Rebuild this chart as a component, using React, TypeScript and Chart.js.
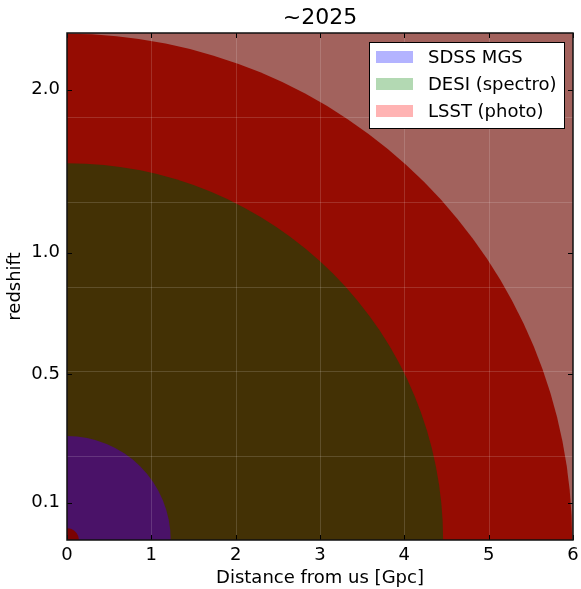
import React, { useEffect, useRef } from "react";
import { Chart, registerables } from "chart.js";

Chart.register(...registerables);

// ---- data ----
const titleText = "~2025";
const xTickValues = [0, 1, 2, 3, 4, 5, 6];
const gridValues = [1, 2, 3, 4, 5];
const redshiftLabels = ["0.1", "0.5", "1.0", "2.0"];
const redshiftDistances = [0.44, 1.96, 3.4, 5.33]; // Gpc
const surveyNames = ["SDSS MGS", "DESI (spectro)", "LSST (photo)"];
const surveyRadii = [1.23, 4.46, 5.99]; // Gpc
const surveyRegionColors = ["#4a1268", "#433105", "#950c02"];
const legendColors = ["#b3b3ff", "#b3d9b3", "#ffb3b3"];
const outsideColor = "#a2625d";
const localRadius = [0.14];
const localColor = "#7a0202";

const FONT = "'DejaVu Sans', sans-serif";
const FS = 18;

const regionPlugin = {
  id: "regions",
  beforeDatasetsDraw(chart: any) {
    const { ctx, chartArea, scales } = chart;
    const xs = scales.x;
    const ys = scales.y;
    ctx.save();
    ctx.beginPath();
    ctx.rect(chartArea.left, chartArea.top, chartArea.right - chartArea.left, chartArea.bottom - chartArea.top);
    ctx.clip();
    ctx.fillStyle = outsideColor;
    ctx.fillRect(chartArea.left, chartArea.top, chartArea.right - chartArea.left, chartArea.bottom - chartArea.top);
    const cx = xs.getPixelForValue(0);
    const cy = ys.getPixelForValue(0);
    const disc = (r: number, color: string) => {
      const rx = xs.getPixelForValue(r) - cx;
      const ry = cy - ys.getPixelForValue(r);
      ctx.beginPath();
      ctx.ellipse(cx, cy, rx, ry, 0, 0, Math.PI * 2);
      ctx.fillStyle = color;
      ctx.fill();
    };
    const order = surveyRadii.map((r, i) => i).sort((a, b) => surveyRadii[b] - surveyRadii[a]);
    order.forEach((i) => disc(surveyRadii[i], surveyRegionColors[i]));
    localRadius.forEach((r) => disc(r, localColor));
    // grid
    ctx.strokeStyle = "rgba(255,255,255,0.15)";
    ctx.lineWidth = 1;
    gridValues.forEach((v) => {
      const px = Math.round(xs.getPixelForValue(v)) + 0.5;
      ctx.beginPath();
      ctx.moveTo(px, chartArea.top);
      ctx.lineTo(px, chartArea.bottom);
      ctx.stroke();
      const py = Math.round(ys.getPixelForValue(v)) + 0.5;
      ctx.beginPath();
      ctx.moveTo(chartArea.left, py);
      ctx.lineTo(chartArea.right, py);
      ctx.stroke();
    });
    ctx.restore();
  },
  afterDraw(chart: any) {
    const { ctx, chartArea, scales } = chart;
    const xs = scales.x;
    const ys = scales.y;
    ctx.save();
    // ticks inward
    ctx.strokeStyle = "#000";
    ctx.lineWidth = 1;
    const tl = 5;
    xTickValues.forEach((v) => {
      const px = Math.round(xs.getPixelForValue(v)) + 0.5;
      ctx.beginPath();
      ctx.moveTo(px, chartArea.bottom);
      ctx.lineTo(px, chartArea.bottom - tl);
      ctx.moveTo(px, chartArea.top);
      ctx.lineTo(px, chartArea.top + tl);
      ctx.stroke();
    });
    redshiftDistances.forEach((v) => {
      const py = Math.round(ys.getPixelForValue(v)) + 0.5;
      ctx.beginPath();
      ctx.moveTo(chartArea.left, py);
      ctx.lineTo(chartArea.left + tl, py);
      ctx.moveTo(chartArea.right, py);
      ctx.lineTo(chartArea.right - tl, py);
      ctx.stroke();
    });
    // frame
    ctx.lineWidth = 1.5;
    ctx.strokeStyle = "#111";
    ctx.strokeRect(chartArea.left, chartArea.top, chartArea.right - chartArea.left, chartArea.bottom - chartArea.top);
    // legend
    const lx = 369, ly = 42, lw = 195, lh = 86;
    ctx.fillStyle = "#fff";
    ctx.fillRect(lx, ly, lw, lh);
    ctx.lineWidth = 1;
    ctx.strokeStyle = "#000";
    ctx.strokeRect(lx + 0.5, ly + 0.5, lw, lh);
    ctx.font = `${FS}px ${FONT}`;
    ctx.textBaseline = "middle";
    ctx.textAlign = "left";
    surveyNames.forEach((name, i) => {
      const cyl = 57 + i * 27;
      ctx.fillStyle = legendColors[i];
      ctx.fillRect(376, cyl - 6, 37, 12);
      ctx.fillStyle = "#000";
      ctx.fillText(name, 428, cyl + 1);
    });
    ctx.restore();
  },
};

export default function App() {
  const ref = useRef<HTMLCanvasElement>(null);
  useEffect(() => {
    if (!ref.current) return;
    const chart = new Chart(ref.current, {
      type: "scatter",
      data: { datasets: [] },
      options: {
        animation: false,
        responsive: false,
        devicePixelRatio: 1,
        layout: { padding: { right: 8, left: 0, top: 0, bottom: 0 } },
        plugins: {
          legend: { display: false },
          tooltip: { enabled: false },
          title: {
            display: true,
            text: titleText,
            fullSize: false,
            color: "#000",
            font: { family: FONT, size: 22, weight: "normal" },
            padding: { top: 5, bottom: 1.6 },
          },
        },
        scales: {
          x: {
            type: "linear",
            min: 0,
            max: 6,
            afterBuildTicks: (s: any) => {
              s.ticks = xTickValues.map((v) => ({ value: v }));
            },
            afterFit: (s: any) => {
              s.height = 49;
              s.paddingLeft = 0;
              s.paddingRight = 0;
            },
            grid: { display: false, drawTicks: false },
            border: { display: false },
            ticks: {
              color: "#000",
              padding: 5,
              maxRotation: 0,
              font: { family: FONT, size: FS },
              callback: (v: any) => String(v),
            },
            title: {
              display: true,
              text: "Distance from us [Gpc]",
              color: "#000",
              font: { family: FONT, size: FS },
              padding: { top: 0, bottom: 0 },
            },
          },
          y: {
            type: "linear",
            min: 0,
            max: 6,
            afterBuildTicks: (s: any) => {
              s.ticks = redshiftDistances.map((v) => ({ value: v }));
            },
            afterFit: (s: any) => {
              s.width = 67;
              s.paddingTop = 0;
              s.paddingBottom = 0;
            },
            grid: { display: false, drawTicks: false },
            border: { display: false },
            ticks: {
              color: "#000",
              padding: 7,
              font: { family: FONT, size: FS },
              callback: (v: any, i: number) => redshiftLabels[i],
            },
            title: {
              display: true,
              text: "redshift",
              color: "#000",
              font: { family: FONT, size: FS },
              padding: { top: 5, bottom: 0 },
            },
          },
        },
      },
      plugins: [regionPlugin],
    } as any);
    return () => chart.destroy();
  }, []);
  return (
    <div style={{ position: "fixed", left: 0, top: 0, width: 581, height: 589, background: "#fff" }}>
      <canvas ref={ref} width={581} height={589} style={{ display: "block" }} />
    </div>
  );
}
